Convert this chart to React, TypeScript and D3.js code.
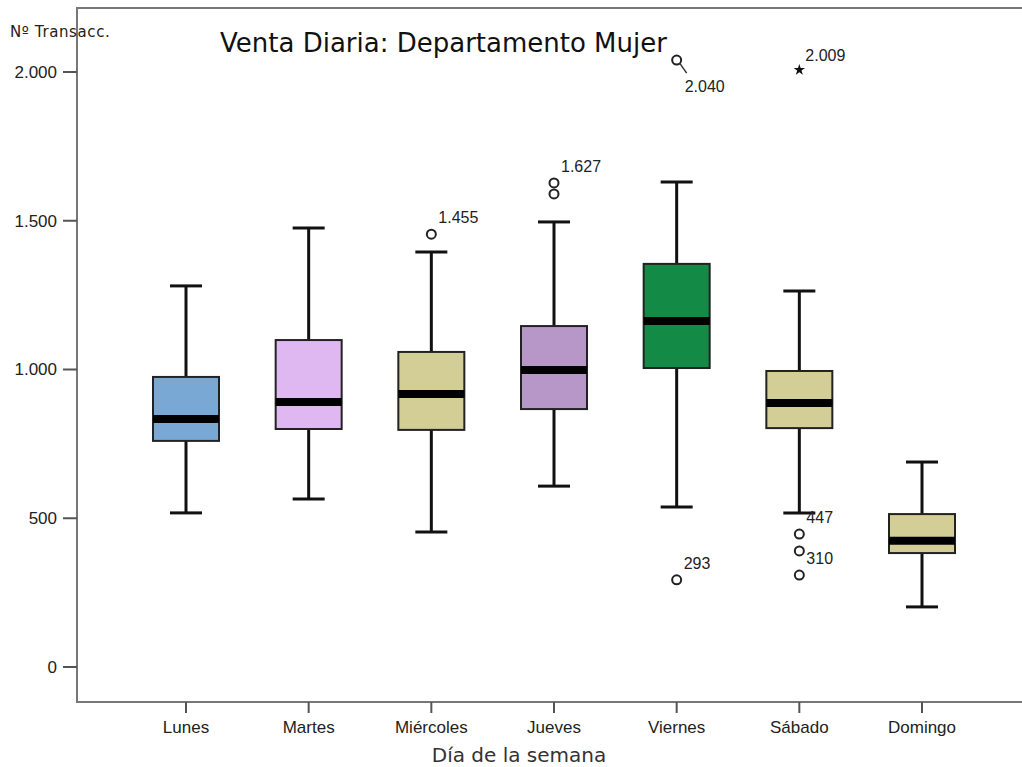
import * as d3 from 'd3';

// ---- data ----
const days = ['Lunes', 'Martes', 'Miércoles', 'Jueves', 'Viernes', 'Sábado', 'Domingo'];
const whiskerLow = [518, 565, 454, 608, 538, 518, 202];
const q1 = [760, 800, 797, 867, 1005, 803, 383];
const median = [834, 891, 918, 998, 1163, 887, 424];
const q3 = [975, 1099, 1059, 1146, 1355, 995, 514];
const whiskerHigh = [1281, 1476, 1395, 1496, 1630, 1264, 689];
const boxColors = ['#79a8d4', '#dfb8f1', '#d3cd96', '#b797c8', '#138a45', '#d3cd96', '#d3cd96'];

// outliers (circles) and extremes (stars)
const outlierDay = ['Miércoles', 'Jueves', 'Jueves', 'Viernes', 'Viernes', 'Sábado', 'Sábado', 'Sábado'];
const outlierValue = [1455, 1627, 1590, 2040, 293, 447, 390, 309];
const outlierLabel = ['1.455', '1.627', '', '2.040', '293', '447', '', '310'];
const extremeDay = ['Sábado'];
const extremeValue = [2007];
const extremeLabel = ['2.009'];

const yTicks = [0, 500, 1000, 1500, 2000];

const width = 1022;
const height = 767;
const frame = { left: 77, top: 8, bottom: 702, right: 1040 };

const locale = d3.formatLocale({ decimal: ',', thousands: '.', grouping: [3], currency: ['', ''] });
const fmt = locale.format(',d');

const x = d3.scalePoint<string>().domain(days).range([186, 922]);
const y = d3.scaleLinear().domain([0, 2000]).range([667, 72]);

const boxW = 66;
const capW = 32;

export default function App() {
  const sans = 'Liberation Sans, Arial, sans-serif';
  const titleFont = 'DejaVu Sans, Verdana, sans-serif';
  const star = d3.symbol().type(d3.symbolStar).size(40)();

  return (
    <svg width={width} height={height} style={{ position: 'absolute', left: 0, top: 0, background: '#fff' }}>
      {/* frame */}
      <path
        d={`M${frame.right},${frame.top}H${frame.left}V${frame.bottom}H${frame.right}`}
        fill="none"
        stroke="#777"
        strokeWidth={2}
      />

      {/* y axis */}
      {yTicks.map((t) => (
        <g key={t} transform={`translate(0,${y(t)})`}>
          <line x1={63} x2={frame.left} stroke="#555" strokeWidth={2} />
          <text x={57} dy="0.35em" textAnchor="end" fontFamily={sans} fontSize={17} fill="#222">
            {fmt(t)}
          </text>
        </g>
      ))}
      <text x={10} y={37} fontFamily={titleFont} fontSize={15} letterSpacing={0.6} fill="#222">
        Nº Transacc.
      </text>

      {/* x axis */}
      {days.map((d) => (
        <g key={d} transform={`translate(${x(d)},0)`}>
          <line y1={frame.bottom} y2={frame.bottom + 11} stroke="#555" strokeWidth={2} />
          <text y={733} textAnchor="middle" fontFamily={sans} fontSize={17} fill="#222">
            {d}
          </text>
        </g>
      ))}
      <text x={519} y={762} textAnchor="middle" fontFamily={titleFont} fontSize={20} fill="#333">
        Día de la semana
      </text>

      {/* title */}
      <text x={220} y={52} fontFamily={titleFont} fontSize={26} fill="#111">
        Venta Diaria: Departamento Mujer
      </text>

      {/* boxes */}
      {days.map((d, i) => {
        const cx = x(d) as number;
        return (
          <g key={d}>
            <line x1={cx} x2={cx} y1={y(whiskerHigh[i])} y2={y(q3[i])} stroke="#111" strokeWidth={3} />
            <line x1={cx} x2={cx} y1={y(q1[i])} y2={y(whiskerLow[i])} stroke="#111" strokeWidth={3} />
            <line x1={cx - capW / 2} x2={cx + capW / 2} y1={y(whiskerHigh[i])} y2={y(whiskerHigh[i])} stroke="#111" strokeWidth={3} />
            <line x1={cx - capW / 2} x2={cx + capW / 2} y1={y(whiskerLow[i])} y2={y(whiskerLow[i])} stroke="#111" strokeWidth={3} />
            <rect
              x={cx - boxW / 2}
              y={y(q3[i])}
              width={boxW}
              height={y(q1[i]) - y(q3[i])}
              fill={boxColors[i]}
              stroke="#222"
              strokeWidth={2}
            />
            <line x1={cx - boxW / 2} x2={cx + boxW / 2} y1={y(median[i])} y2={y(median[i])} stroke="#000" strokeWidth={8} />
          </g>
        );
      })}

      {/* outliers */}
      {outlierValue.map((v, i) => {
        const cx = x(outlierDay[i]) as number;
        const cy = y(v);
        const below = v === 2040;
        return (
          <g key={i}>
            <circle cx={cx} cy={cy} r={4.5} fill="#fff" stroke="#222" strokeWidth={2} />
            {below && <line x1={cx + 3} y1={cy + 3} x2={cx + 10} y2={cy + 13} stroke="#333" strokeWidth={1.5} />}
            {outlierLabel[i] && (
              <text
                x={cx + (below ? 8 : 7)}
                y={cy + (below ? 32 : -11)}
                fontFamily={sans}
                fontSize={16}
                fill="#222"
              >
                {outlierLabel[i]}
              </text>
            )}
          </g>
        );
      })}
      {extremeValue.map((v, i) => {
        const cx = x(extremeDay[i]) as number;
        const cy = y(v);
        return (
          <g key={i}>
            <path d={star as string} transform={`translate(${cx},${cy})`} fill="#111" />
            <text x={cx + 6} y={cy - 9} fontFamily={sans} fontSize={16} fill="#222">
              {extremeLabel[i]}
            </text>
          </g>
        );
      })}
    </svg>
  );
}
